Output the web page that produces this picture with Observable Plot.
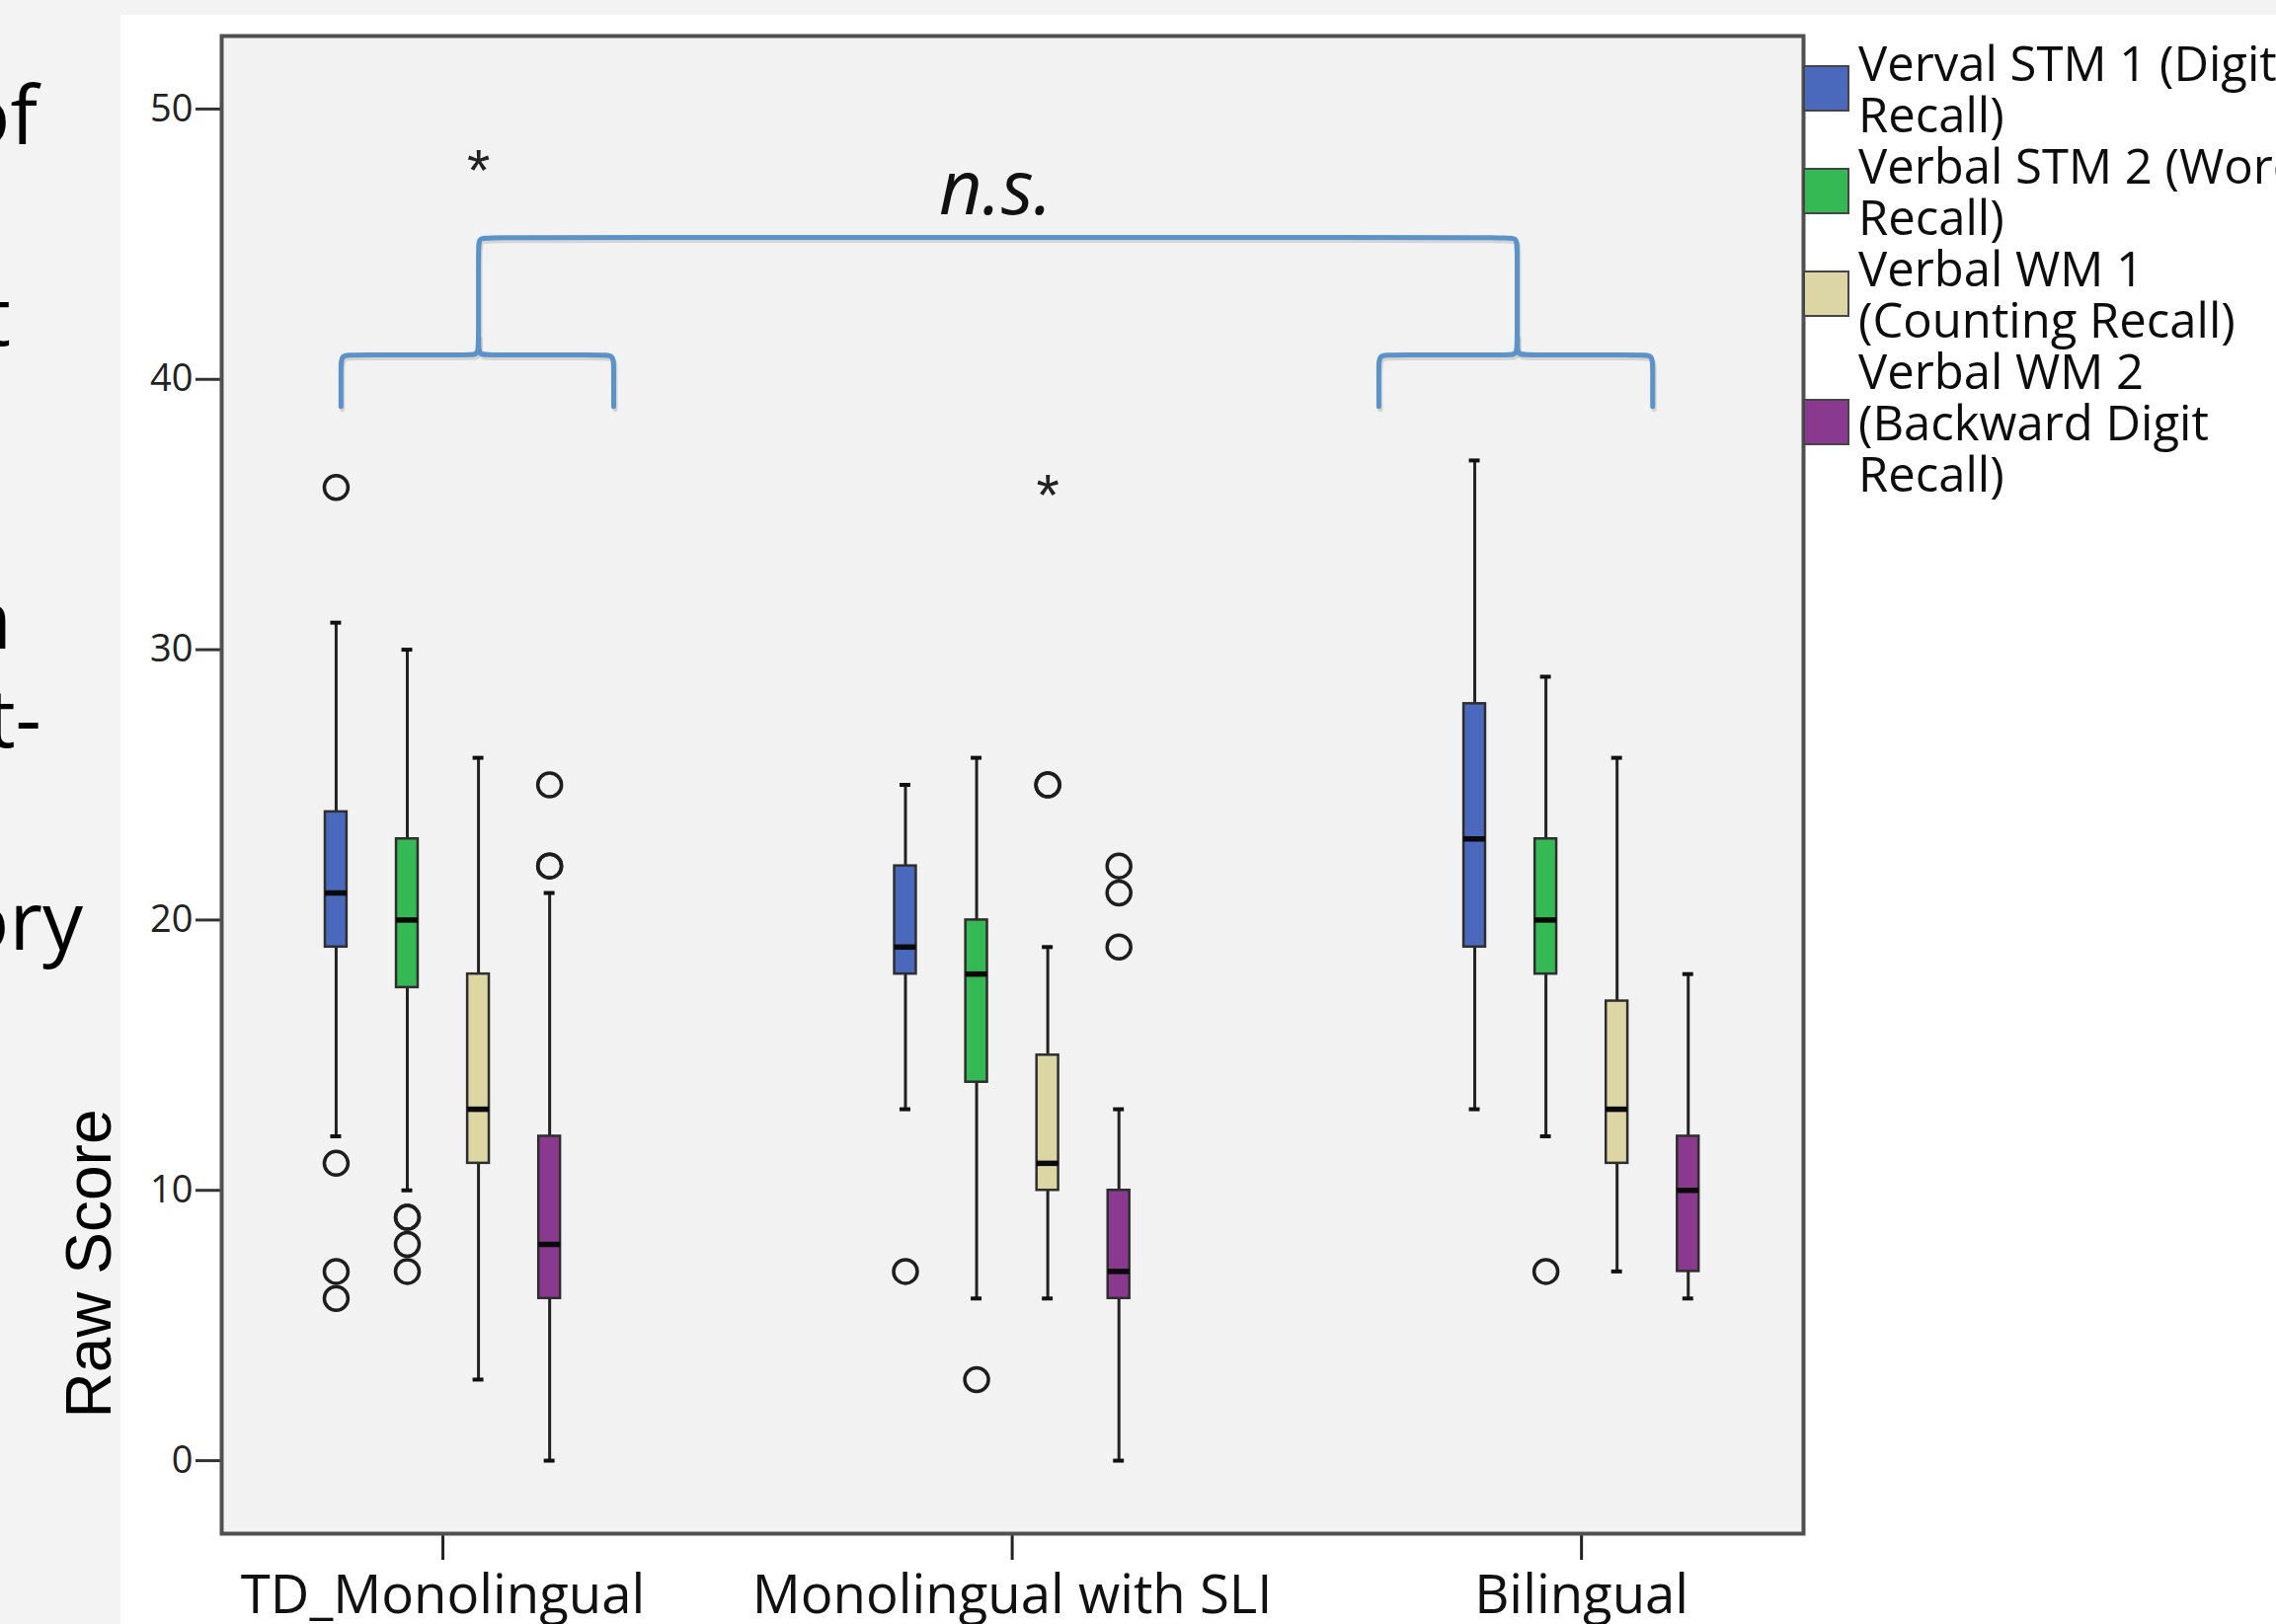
<!DOCTYPE html>
<html>
<head>
<meta charset="utf-8">
<script src="https://cdn.jsdelivr.net/npm/d3@7"></script>
<script src="https://cdn.jsdelivr.net/npm/@observablehq/plot@0.6"></script>
<style>
  html, body { margin: 0; padding: 0; width: 2305px; height: 1645px; overflow: hidden; background: #f3f3f3; }
  #page { position: relative; width: 2305px; height: 1645px; overflow: hidden; }
  #panel { position: absolute; left: 122px; top: 15px; right: 0; bottom: 0; background: #ffffff; }
  #chart { position: absolute; left: 0; top: 0; }
  .slide { position: absolute; font-family: "Open Sans"; font-size: 82px; line-height: 82px; color: #000; white-space: nowrap; }
  #ylabel { position: absolute; left: 90px; top: 1280px; transform: translate(-50%, -50%) rotate(-90deg);
            font-family: "Liberation Sans"; font-size: 64px; line-height: 64px; color: #000; white-space: nowrap; }
  #legend { position: absolute; left: 1826px; top: 37px; font-family: "Open Sans"; font-size: 49px; line-height: 52px; color: #0d0d0d; }
  .entry { display: flex; align-items: center; }
  .sw { width: 43px; height: 43px; border: 2px solid #454545; flex: none; }
  .lab { margin-left: 9px; white-space: nowrap; }
</style>
</head>
<body>
<div id="page">
  <div id="panel"></div>
  <div id="chart"></div>
  <div id="slideText"></div>
  <div id="ylabel">Raw Score</div>
  <div id="legend"></div>
</div>
<script>
// ---------------- data ----------------
const groups = ["TD_Monolingual", "Monolingual with SLI", "Bilingual"];
const measures = [
  "Verval STM 1 (Digit Recall)",
  "Verbal STM 2 (Word Recall)",
  "Verbal WM 1 (Counting Recall)",
  "Verbal WM 2 (Backward Digit Recall)"
];
const legendLines = [
  ["Verval STM 1 (Digit", "Recall)"],
  ["Verbal STM 2 (Word", "Recall)"],
  ["Verbal WM 1", "(Counting Recall)"],
  ["Verbal WM 2", "(Backward Digit", "Recall)"]
];
const measureColors = ["#4a69bd", "#34b955", "#dcd5a4", "#8a3a8e"];

// rows = groups, columns = measures
const whiskerLow  = [[12, 10,   3, 0], [13,  6,  6, 0], [13, 12,  7,  6]];
const quartile1   = [[19, 17.5, 11, 6], [18, 14, 10, 6], [19, 18, 11,  7]];
const medians     = [[21, 20,  13, 8], [19, 18, 11, 7], [23, 20, 13, 10]];
const quartile3   = [[24, 23,  18, 12], [22, 20, 15, 10], [28, 23, 17, 12]];
const whiskerHigh = [[31, 30,  26, 21], [25, 26, 19, 13], [37, 29, 26, 18]];
const outliers = [
  [[36, 11, 7, 6], [9, 9, 8, 7], [], [25, 22, 22]],
  [[7], [3], [25, 25], [22, 21, 19]],
  [[], [7], [], []]
];
const extremes = [
  [[], [], [48], []],
  [[], [], [36], []],
  [[], [], [], []]
];
const yTicks = [0, 10, 20, 30, 40, 50];
const nsLabel = "n.s.";
const slideFragments = ["of", "t", "n", "t-", "ory"];

// ---------------- layout helpers (group units) ----------------
const slotStep = 0.125;
const boxHalf = 0.019;
const capHalf = 0.0095;
const slotX = (i, j) => i + (j - 1.5) * slotStep;

const boxes = [];
const outlierRows = [];
const extremeRows = [];
groups.forEach((g, i) => measures.forEach((m, j) => {
  const x = slotX(i, j);
  boxes.push({group: g, measure: m, x, lo: whiskerLow[i][j], q1: quartile1[i][j], med: medians[i][j],
              q3: quartile3[i][j], hi: whiskerHigh[i][j], color: measureColors[j]});
  outliers[i][j].forEach(v => outlierRows.push({x, v}));
  extremes[i][j].forEach(v => extremeRows.push({x, v}));
}));

// bracket annotation (group units / score units)
const braceTip = 39.0, braceArm = 40.9, braceTop = 45.25;
const leftBrace = {from: -0.179, mid: slotX(0, 2), to: 0.300};
const rightBrace = {from: 1.644, mid: 1.887, to: 2.125};
const rx = 0.021, ry = 0.44;
function rounded(corners) {
  const pts = [corners[0]];
  for (let k = 1; k < corners.length - 1; k++) {
    const a = corners[k - 1], b = corners[k], c = corners[k + 1];
    const d1 = [Math.sign(b[0] - a[0]), Math.sign(b[1] - a[1])];
    const d2 = [Math.sign(c[0] - b[0]), Math.sign(c[1] - b[1])];
    pts.push([b[0] - d1[0] * rx, b[1] - d1[1] * ry]);
    pts.push(b);
    pts.push([b[0] + d2[0] * rx, b[1] + d2[1] * ry]);
  }
  pts.push(corners[corners.length - 1]);
  return pts;
}
const bracePaths = [
  rounded([[leftBrace.from, braceTip], [leftBrace.from, braceArm], [leftBrace.mid, braceArm], [leftBrace.mid, braceTop],
           [rightBrace.mid, braceTop], [rightBrace.mid, braceArm], [rightBrace.from, braceArm], [rightBrace.from, braceTip]]),
  rounded([[leftBrace.mid, braceArm + 0.7], [leftBrace.mid, braceArm], [leftBrace.to, braceArm], [leftBrace.to, braceTip]]),
  rounded([[rightBrace.mid, braceArm + 0.7], [rightBrace.mid, braceArm], [rightBrace.to, braceArm], [rightBrace.to, braceTip]])
];
const braceRows = bracePaths.flatMap((p, k) => p.map(([x, y]) => ({x, y, k})));
const nsRows = [{x: 0.971, y: 47.0, text: nsLabel}];

// ---------------- plot ----------------
const W = 2305, H = 1645;
const chart = Plot.plot({
  width: W, height: H,
  marginLeft: 224, marginRight: W - 1826, marginTop: 36, marginBottom: 92,
  style: {background: "transparent", fontFamily: "Open Sans", color: "#222", overflow: "visible"},
  x: {domain: [-0.3886, 2.390]},
  y: {domain: [-2.7, 52.7]},
  marks: [
    Plot.frame({fill: "#f2f2f2", stroke: null}),
    // bracket shadow + bracket
    Plot.line(braceRows, {x: "x", y: "y", z: "k", curve: "basis", stroke: "#000", strokeOpacity: 0.12, strokeWidth: 5, dx: 1.5, dy: 3}),
    Plot.line(braceRows, {x: "x", y: "y", z: "k", curve: "basis", stroke: "#5b93c9", strokeWidth: 5}),
    // whiskers
    Plot.ruleX(boxes, {x: "x", y1: "q3", y2: "hi", stroke: "#222", strokeWidth: 3}),
    Plot.ruleX(boxes, {x: "x", y1: "lo", y2: "q1", stroke: "#222", strokeWidth: 3}),
    Plot.ruleY(boxes, {y: "hi", x1: d => d.x - capHalf, x2: d => d.x + capHalf, stroke: "#111", strokeWidth: 4}),
    Plot.ruleY(boxes, {y: "lo", x1: d => d.x - capHalf, x2: d => d.x + capHalf, stroke: "#111", strokeWidth: 4}),
    // boxes
    Plot.rect(boxes, {x1: d => d.x - boxHalf, x2: d => d.x + boxHalf, y1: "q1", y2: "q3", fill: "color", stroke: "#2e2e2e", strokeWidth: 2.5}),
    Plot.ruleY(boxes, {y: "med", x1: d => d.x - boxHalf, x2: d => d.x + boxHalf, stroke: "#0a0a0a", strokeWidth: 5.5}),
    // outliers and extremes
    Plot.dot(outlierRows, {x: "x", y: "v", r: 12, stroke: "#1e1e1e", strokeWidth: 3.5, fill: "none"}),
    Plot.text(extremeRows, {x: "x", y: "v", text: () => "*", fontSize: 60, fontFamily: "Liberation Sans", dy: 9, fill: "#222"}),
    // n.s.
    Plot.text(nsRows, {x: "x", y: "y", text: "text", fontSize: 76, fontStyle: "italic", fill: "#111"}),
    // axes
    Plot.axisY({ticks: yTicks, tickFormat: d => String(d), tickSize: 26, tickPadding: 3, fontSize: 38,
                stroke: "#333", strokeWidth: 3, fill: "#222", label: null}),
    Plot.axisX({ticks: [0, 1, 2], tickFormat: i => groups[i], tickSize: 27, tickPadding: 15, fontSize: 54.5,
                stroke: "#222", strokeWidth: 3, fill: "#111", label: null}),
    Plot.frame({stroke: "#505050", strokeWidth: 4})
  ]
});
document.getElementById("chart").appendChild(chart);

// ---------------- legend ----------------
const legend = document.getElementById("legend");
measures.forEach((m, j) => {
  const row = document.createElement("div");
  row.className = "entry";
  row.style.height = (legendLines[j].length * 52) + "px";
  const sw = document.createElement("div");
  sw.className = "sw";
  sw.style.background = measureColors[j];
  const lab = document.createElement("div");
  lab.className = "lab";
  lab.innerHTML = legendLines[j].join("<br>");
  row.appendChild(sw);
  row.appendChild(lab);
  legend.appendChild(row);
});

// ---------------- cut-off slide text on the left ----------------
const slidePos = [[38, 146], [11, 350], [12, 657], [42, 757], [84, 962]]; // [right edge, baseline]
const slideHost = document.getElementById("slideText");
slideFragments.forEach((t, k) => {
  const d = document.createElement("div");
  d.className = "slide";
  d.textContent = t;
  d.style.right = (W - slidePos[k][0]) + "px";
  d.style.top = (slidePos[k][1] - 73) + "px";
  slideHost.appendChild(d);
});
</script>
</body>
</html>
